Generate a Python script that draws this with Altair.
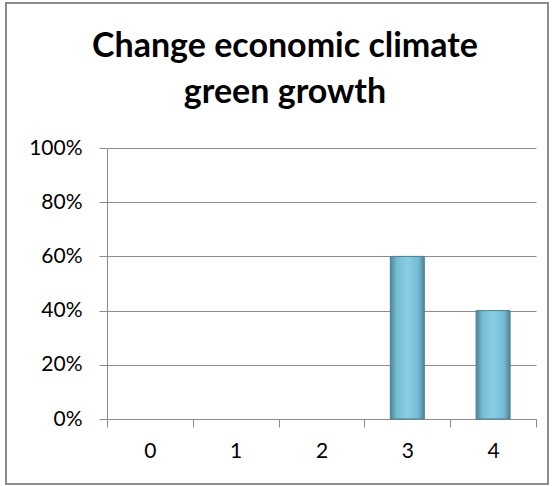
import altair as alt
import pandas as pd

categories = ["0", "1", "2", "3", "4"]
shares = [0.0, 0.0, 0.0, 0.6, 0.4]
y_ticks = [0, 0.2, 0.4, 0.6, 0.8, 1.0]
title_lines = ["Change economic climate", "green growth"]

df = pd.DataFrame({"cat": categories, "share": shares})
title_df = pd.DataFrame({"t": ["\n".join(title_lines)]})

grad = alt.LinearGradient(
    gradient="linear",
    x1=0, x2=1, y1=0, y2=0,
    stops=[
        alt.GradientStop(color="#4d8399", offset=0),
        alt.GradientStop(color="#74bbd3", offset=0.18),
        alt.GradientStop(color="#88cfe6", offset=0.5),
        alt.GradientStop(color="#74bbd3", offset=0.82),
        alt.GradientStop(color="#4d8399", offset=1),
    ],
)

FONT = "Lato"
GRAY = "#8c8c8c"

bars = alt.Chart(df).transform_filter("datum.share > 0").mark_bar(
    size=34, fill=grad, stroke="#4f7f92", strokeWidth=1
).encode(
    x=alt.X("cat:N", sort=categories,
            scale=alt.Scale(domain=categories, paddingInner=0, paddingOuter=0),
            axis=alt.Axis(title=None, labelAngle=0, tickBand="extent", grid=False,
                          tickSize=8, tickColor=GRAY, domainColor=GRAY,
                          labelPadding=13, labelFont=FONT, labelFontSize=21,
                          labelColor="#000000")),
    y=alt.Y("share:Q", scale=alt.Scale(domain=[0, 1], nice=False),
            axis=alt.Axis(title=None, format="%", values=y_ticks, grid=True,
                          gridColor=GRAY, tickColor=GRAY, domainColor=GRAY,
                          tickSize=8, labelPadding=17, labelFont=FONT,
                          labelFontSize=21, labelColor="#000000")),
)

border = alt.Chart(df).mark_rect(fill=None, stroke=GRAY, strokeWidth=1.5).encode(
    x=alt.value(-101), x2=alt.value(441), y=alt.value(-145), y2=alt.value(336)
)

title = alt.Chart(title_df).mark_text(
    font=FONT, fontSize=34, fontWeight="bold", color="#000000",
    align="center", baseline="alphabetic", lineBreak="\n", lineHeight=46
).encode(text="t:N", x=alt.value(178), y=alt.value(-91))

chart = alt.layer(border, bars, title).properties(
    width=429, height=271,
    padding={"left": 107, "top": 148, "right": 24, "bottom": 67},
    autosize="none",
).configure_view(stroke=None).configure_axis(domainWidth=1, tickWidth=1, gridWidth=1)

chart.save("out.html", embed_options={"renderer": "svg", "actions": False})
